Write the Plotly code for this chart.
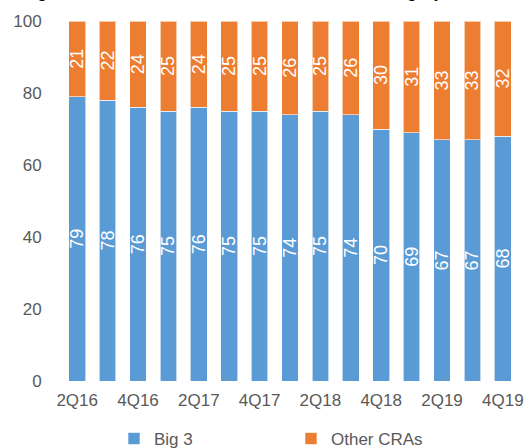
import plotly.graph_objects as go

quarters = ["2Q16", "3Q16", "4Q16", "1Q17", "2Q17", "3Q17", "4Q17", "1Q18",
            "2Q18", "3Q18", "4Q18", "1Q19", "2Q19", "3Q19", "4Q19"]
big3 = [79, 78, 76, 75, 76, 75, 75, 74, 75, 74, 70, 69, 67, 67, 68]
other_cras = [21, 22, 24, 25, 24, 25, 25, 26, 25, 26, 30, 31, 33, 33, 32]
y_ticks = [0, 20, 40, 60, 80, 100]
title_text = "Figure 12, Market share of CRAs in each category"

FONT = "Liberation Sans, Arial, sans-serif"
GRAY = "#595959"

fig = go.Figure()
fig.add_trace(go.Bar(
    x=quarters, y=big3, name="Big 3",
    marker=dict(color="#5B9BD5", line=dict(color="rgba(255,255,255,0.6)", width=1)),
    text=big3, texttemplate="%{text}", textposition="inside",
    insidetextanchor="middle", textangle=-90,
    textfont=dict(color="white", size=18, family=FONT),
))
fig.add_trace(go.Bar(
    x=quarters, y=other_cras, name="Other CRAs",
    marker=dict(color="#ED7D31", line=dict(color="rgba(255,255,255,0.6)", width=1)),
    text=other_cras, texttemplate="%{text}", textposition="inside",
    insidetextanchor="middle", textangle=-90,
    textfont=dict(color="white", size=18, family=FONT),
))

fig.update_layout(
    barmode="stack",
    bargap=0.45,
    width=528, height=448,
    margin=dict(l=62, r=10, t=21, b=67, autoexpand=False),
    paper_bgcolor="white", plot_bgcolor="white",
    font=dict(family=FONT, color=GRAY, size=17),
    uniformtext=dict(minsize=18, mode="show"),
    showlegend=True,
    legend=dict(orientation="h", x=0.114, xanchor="left", y=-0.111, yanchor="top",
                entrywidth=132, font=dict(size=17, color=GRAY),
                traceorder="normal"),
    xaxis=dict(
        type="category", tickmode="array",
        tickvals=quarters[::2], ticktext=quarters[::2],
        showgrid=False, showline=False, ticks="outside", ticklen=4,
        tickcolor="rgba(0,0,0,0)", zeroline=False,
        tickfont=dict(size=17, color=GRAY),
    ),
    yaxis=dict(
        range=[0, 100], tickmode="array", tickvals=y_ticks,
        showgrid=False, showline=False, ticks="outside", ticklen=16,
        tickcolor="rgba(0,0,0,0)", zeroline=False,
        tickfont=dict(size=17, color=GRAY),
    ),
    annotations=[dict(
        text=title_text, xref="paper", yref="paper",
        x=-0.094, y=1, xanchor="left", yanchor="bottom", yshift=18,
        showarrow=False, font=dict(size=19, color="black", family=FONT),
    )],
)

fig.write_html(
    "out.html",
    config={"displayModeBar": False},
    post_script="document.body.style.margin='0';document.body.style.overflow='hidden';",
)
